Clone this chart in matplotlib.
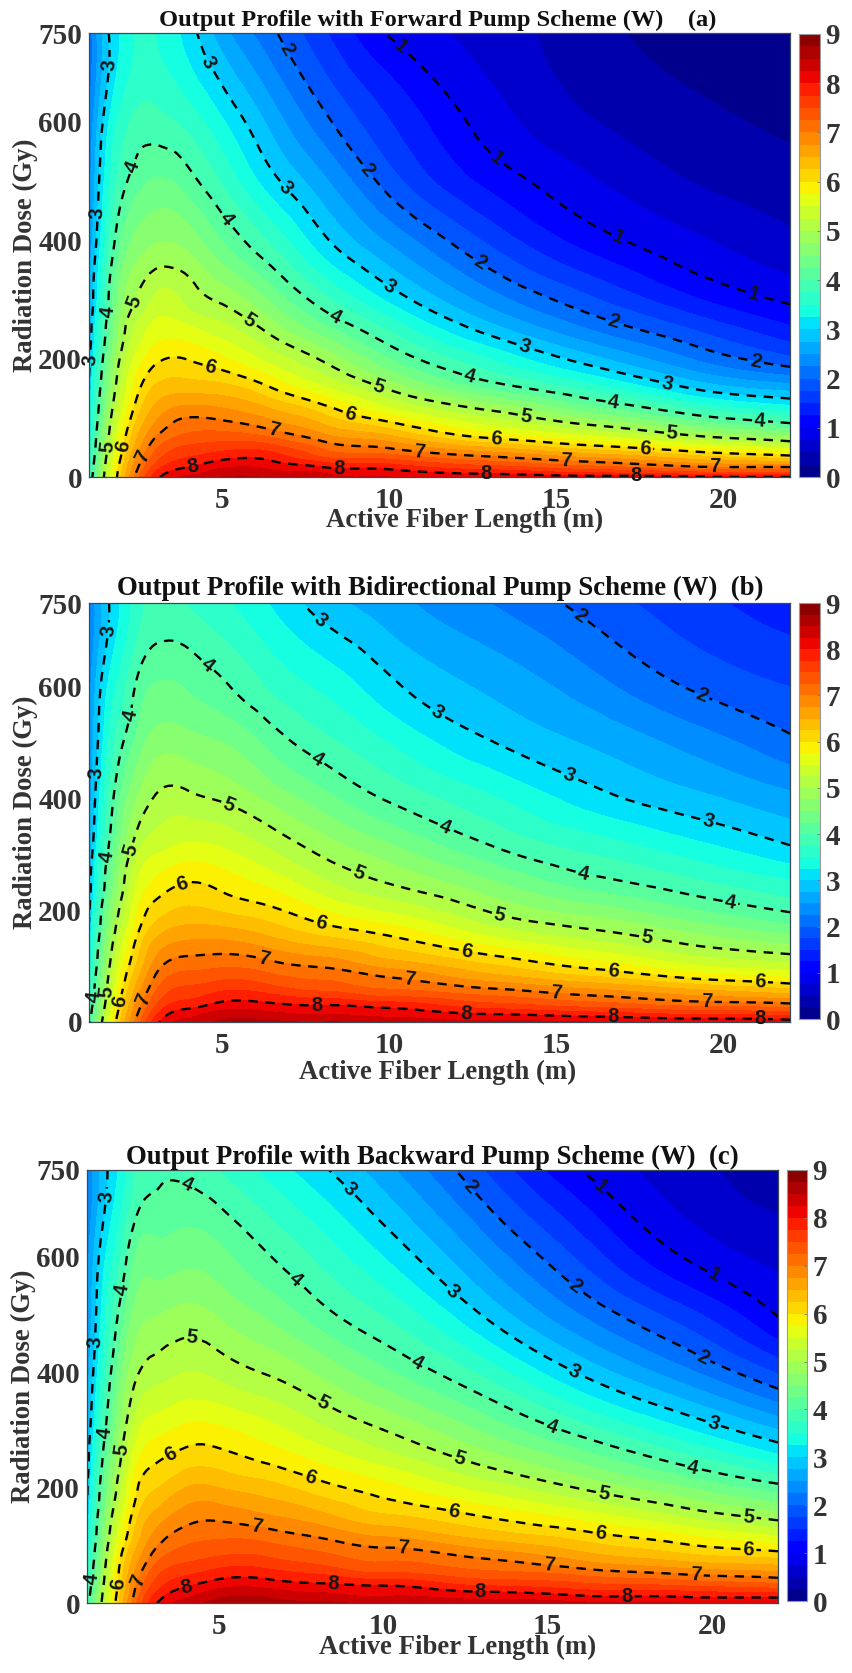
import matplotlib
matplotlib.use("Agg")
import matplotlib.pyplot as plt
import matplotlib.tri as mtri
import numpy as np

plt.rcParams["font.family"] = "Liberation Serif"
plt.rcParams["font.weight"] = "bold"

FIG_W, FIG_H = 853, 1673

lengths = [1, 1.5, 2, 2.5, 3, 4, 5, 6.5, 8, 10, 13, 16, 19, 22]
doses = [0, 15, 30, 50, 75, 100, 150, 200, 250, 300, 400, 500, 600, 750]
fill_levels = np.arange(0, 9.25, 0.25)
line_levels = [1, 2, 3, 4, 5, 6, 7, 8]

# one row per fiber length, one value per dose
forward_output = [
    [3.7, 3.6, 3.52, 3.42, 3.32, 3.22, 3.06, 2.93, 2.82, 2.72, 2.55, 2.4, 2.27, 2.1],
    [5.15, 5.07, 4.98, 4.87, 4.75, 4.63, 4.4, 4.2, 4.0, 3.82, 3.55, 3.33, 3.13, 2.9],
    [6.35, 6.25, 6.12, 5.97, 5.8, 5.63, 5.35, 5.12, 4.9, 4.7, 4.28, 3.9, 3.62, 3.3],
    [7.25, 7.05, 6.9, 6.7, 6.5, 6.3, 5.97, 5.65, 5.35, 5.05, 4.61, 4.17, 3.85, 3.55],
    [7.9, 7.65, 7.42, 7.2, 6.92, 6.7, 6.3, 5.93, 5.6, 5.3, 4.72, 4.28, 3.85, 3.5],
    [8.3, 8.03, 7.8, 7.55, 7.25, 7.01, 6.4, 5.98, 5.55, 5.16, 4.63, 4.1, 3.65, 3.12],
    [8.5, 8.25, 7.98, 7.65, 7.28, 6.95, 6.35, 5.8, 5.35, 4.94, 4.24, 3.71, 3.28, 2.6],
    [8.45, 8.2, 7.95, 7.6, 7.08, 6.7, 6.0, 5.38, 4.88, 4.43, 3.68, 3.08, 2.65, 2.05],
    [8.35, 8.05, 7.6, 7.2, 6.72, 6.35, 5.55, 4.95, 4.35, 3.84, 3.07, 2.56, 2.09, 1.55],
    [8.25, 7.95, 7.5, 6.97, 6.4, 5.85, 4.95, 4.25, 3.71, 3.19, 2.45, 1.87, 1.51, 0.97],
    [8.2, 7.65, 7.15, 6.5, 5.75, 5.25, 4.2, 3.49, 2.87, 2.38, 1.69, 1.17, 0.88, 0.65],
    [8.1, 7.4, 6.85, 6.12, 5.35, 4.7, 3.65, 2.84, 2.24, 1.8, 1.13, 0.78, 0.52, 0.33],
    [8.05, 7.15, 6.5, 5.75, 4.85, 4.15, 3.0, 2.25, 1.75, 1.3, 0.8, 0.5, 0.32, 0.15],
    [8.0, 7.1, 6.3, 5.4, 4.5, 3.75, 2.65, 1.8, 1.3, 0.95, 0.55, 0.35, 0.2, 0.05],
]

bidirectional_output = [
    [3.9, 3.8, 3.72, 3.6, 3.47, 3.35, 3.12, 2.95, 2.85, 2.76, 2.62, 2.5, 2.4, 2.25],
    [5.3, 5.18, 5.06, 4.95, 4.84, 4.72, 4.5, 4.3, 4.06, 3.9, 3.62, 3.38, 3.2, 2.9],
    [6.4, 6.28, 6.17, 6.04, 5.88, 5.73, 5.43, 5.15, 4.92, 4.72, 4.35, 3.98, 3.65, 3.3],
    [7.2, 7.06, 6.92, 6.75, 6.55, 6.37, 6.1, 5.8, 5.55, 5.3, 4.8, 4.38, 4.1, 3.68],
    [7.9, 7.7, 7.5, 7.3, 7.08, 6.88, 6.5, 6.12, 5.8, 5.5, 5.03, 4.62, 4.28, 3.85],
    [8.35, 8.15, 7.9, 7.65, 7.4, 7.17, 6.72, 6.3, 6.0, 5.65, 5.07, 4.6, 4.22, 3.72],
    [8.55, 8.35, 8.1, 7.82, 7.5, 7.22, 6.72, 6.22, 5.9, 5.58, 4.96, 4.5, 4.05, 3.55],
    [8.55, 8.3, 8.06, 7.75, 7.38, 7.1, 6.52, 6.05, 5.65, 5.29, 4.67, 4.15, 3.7, 3.22],
    [8.5, 8.22, 8.0, 7.6, 7.25, 6.97, 6.3, 5.75, 5.3, 4.97, 4.35, 3.83, 3.45, 2.87],
    [8.4, 8.15, 7.9, 7.4, 7.07, 6.68, 6.05, 5.45, 4.98, 4.64, 3.96, 3.49, 3.07, 2.6],
    [8.3, 7.98, 7.6, 7.2, 6.7, 6.3, 5.55, 4.97, 4.54, 4.12, 3.54, 3.02, 2.7, 2.25],
    [8.25, 7.85, 7.4, 6.95, 6.4, 5.93, 5.2, 4.62, 4.11, 3.75, 3.12, 2.72, 2.36, 1.9],
    [8.2, 7.7, 7.2, 6.7, 6.08, 5.55, 4.86, 4.28, 3.81, 3.44, 2.83, 2.41, 1.98, 1.6],
    [8.15, 7.6, 7.1, 6.5, 5.85, 5.35, 4.59, 3.96, 3.53, 3.11, 2.57, 2.06, 1.75, 1.35],
]

backward_output = [
    [3.85, 3.75, 3.66, 3.55, 3.42, 3.3, 3.08, 2.95, 2.85, 2.76, 2.62, 2.5, 2.4, 2.25],
    [5.15, 5.08, 5.0, 4.9, 4.78, 4.66, 4.45, 4.25, 4.06, 3.88, 3.6, 3.37, 3.18, 2.88],
    [6.3, 6.22, 6.14, 6.08, 5.97, 5.78, 5.45, 5.18, 4.95, 4.75, 4.42, 4.08, 3.72, 3.3],
    [7.25, 7.12, 7.02, 6.85, 6.65, 6.47, 6.2, 5.95, 5.68, 5.42, 4.95, 4.6, 4.3, 3.78],
    [7.9, 7.72, 7.55, 7.37, 7.12, 6.9, 6.55, 6.22, 5.93, 5.65, 5.12, 4.72, 4.38, 3.93],
    [8.35, 8.17, 7.97, 7.72, 7.45, 7.25, 6.88, 6.5, 6.12, 5.82, 5.25, 4.83, 4.42, 3.93],
    [8.6, 8.4, 8.17, 7.88, 7.57, 7.33, 6.93, 6.5, 6.12, 5.8, 5.17, 4.72, 4.33, 3.75],
    [8.6, 8.42, 8.17, 7.88, 7.55, 7.3, 6.78, 6.35, 5.93, 5.6, 4.97, 4.45, 4.02, 3.42],
    [8.55, 8.3, 8.07, 7.75, 7.4, 7.15, 6.6, 6.12, 5.7, 5.33, 4.71, 4.12, 3.7, 3.08],
    [8.45, 8.2, 8.0, 7.55, 7.22, 6.95, 6.3, 5.85, 5.38, 5.0, 4.31, 3.73, 3.25, 2.6],
    [8.35, 8.1, 7.75, 7.35, 7.03, 6.65, 6.0, 5.4, 4.89, 4.47, 3.69, 2.99, 2.46, 1.77],
    [8.3, 7.95, 7.6, 7.2, 6.72, 6.35, 5.65, 4.97, 4.41, 3.88, 2.96, 2.24, 1.69, 1.0],
    [8.25, 7.9, 7.5, 7.0, 6.45, 6.05, 5.25, 4.53, 3.88, 3.31, 2.35, 1.63, 1.01, 0.62],
    [8.2, 7.85, 7.35, 6.85, 6.3, 5.8, 4.88, 4.1, 3.35, 2.75, 1.72, 0.98, 0.68, 0.33],
]

# where the contour labels sit
forward_labels = [
    (10.2, 718), (13.07, 530), (16.76, 392), (20.86, 302),
    (6.78, 718), (9.1, 507), (12.57, 350), (16.66, 254), (20.96, 195),
    (1.65, 696), (1.33, 445), (1.13, 198), (4.58, 701), (6.73, 482), (9.93, 316), (14.0, 214), (18.3, 155),
    (2.33, 524), (5.08, 434), (1.58, 279), (8.33, 265), (12.4, 169), (16.7, 122), (21.1, 91),
    (2.38, 296), (5.73, 260), (1.58, 51), (9.67, 152), (14.07, 99), (18.46, 71),
    (2.03, 51), (4.63, 186), (8.82, 105), (13.2, 65), (17.66, 46),
    (2.63, 34), (6.53, 79), (10.9, 43), (15.3, 26), (19.76, 17),
    (4.1, 18), (8.5, 15), (12.9, 9), (17.4, 3),
]
bidirectional_labels = [
    (15.6, 719), (19.36, 585),
    (1.58, 701), (1.28, 445), (7.9, 716), (11.4, 552), (15.3, 433), (19.5, 349),
    (2.18, 549), (1.58, 295), (1.18, 45), (4.53, 638), (7.78, 465), (11.6, 340), (15.8, 263), (20.2, 209),
    (2.28, 307), (1.58, 54), (5.18, 388), (9.07, 266), (13.3, 191), (17.7, 146),
    (1.93, 36), (3.78, 249), (7.97, 179), (12.3, 124), (16.7, 91), (21.1, 70),
    (2.63, 39), (6.23, 113), (10.6, 73), (15, 51), (19.5, 38),
    (7.82, 30), (12.3, 17), (16.7, 9), (21.1, 4),
]
backward_labels = [
    (16.5, 715), (19.97, 559),
    (12.5, 715), (15.75, 542), (19.66, 418),
    (1.57, 704), (1.28, 452), (8.95, 715), (12, 533), (15.8, 400), (20, 305),
    (2.1, 542), (1.57, 294), (1.23, 42), (4.03, 724), (7.33, 559), (10.98, 409), (15.09, 302), (19.4, 233),
    (2.1, 265), (4.18, 454), (8.14, 343), (12.3, 247), (16.7, 187), (21.1, 146),
    (1.89, 34), (3.52, 259), (7.78, 218), (12.15, 158), (16.6, 117), (21.1, 91),
    (2.55, 39), (6.16, 133), (10.6, 92), (15.04, 65), (19.5, 49),
    (4.03, 28), (8.49, 34), (12.96, 20), (17.4, 13),
]


def px_axes(fig, left, top, right, bottom):
    return fig.add_axes([left / FIG_W, 1 - bottom / FIG_H, (right - left) / FIG_W, (bottom - top) / FIG_H])


def put_text(fig, x, y, s, **kwargs):
    fig.text(x / FIG_W, 1 - y / FIG_H, s, ha="center", va="center", **kwargs)


def draw_panel(fig, output, label_spots, title, title_size, box, cbar_box, title_xy, xlabel_xy, ylabel_xy):
    ax = px_axes(fig, *box)
    cax = px_axes(fig, *cbar_box)

    # let matplotlib's own tri refiner round off the read table
    x, y = np.meshgrid(lengths, doses, indexing="ij")
    tri = mtri.Triangulation(x.ravel() / 22, y.ravel() / 750)
    tri_fine, z_fine = mtri.UniformTriRefiner(tri).refine_field(np.ravel(output), subdiv=3)
    tri_fine = mtri.Triangulation(tri_fine.x * 22, tri_fine.y * 750, tri_fine.triangles)
    z_fine = np.clip(z_fine, 0.01, 8.99)

    cf = ax.tricontourf(tri_fine, z_fine, levels=fill_levels, cmap="jet", vmin=0, vmax=9)
    cs = ax.tricontour(tri_fine, z_fine, levels=line_levels, colors="black",
                       linewidths=1.7, linestyles=[(0, (4, 3.2))])
    texts = ax.clabel(cs, fmt="%d", fontsize=14.5, manual=label_spots, inline=True, inline_spacing=3)
    for t in texts:
        t.set_family("Liberation Sans")
        t.set_weight("bold")
        t.set_color("#151515")
        t.set_clip_on(False)

    ax.set_xlim(1, 22)
    ax.set_ylim(0, 750)
    ax.set_xticks([5, 10, 15, 20])
    ax.set_yticks([0, 200, 400, 600, 750])
    ax.tick_params(length=0, labelsize=21, labelcolor="#333333")
    ax.tick_params(axis="x", pad=7)
    ax.tick_params(axis="y", pad=5)
    for s in ax.spines.values():
        s.set_color("#3a4a55")
        s.set_linewidth(0.9)

    cb = fig.colorbar(cf, cax=cax, ticks=range(10))
    cb.ax.tick_params(length=2, width=0.6, color="#777777", direction="in", labelsize=21,
                      labelcolor="#333333", pad=4)
    cb.outline.set_edgecolor("#999999")
    cb.outline.set_linewidth(0.8)

    put_text(fig, *title_xy, title, fontsize=title_size, color="#111111")
    put_text(fig, *xlabel_xy, "Active Fiber Length (m)", fontsize=19.3, color="#333333")
    put_text(fig, *ylabel_xy, "Radiation Dose (Gy)", fontsize=19.3, color="#333333", rotation=90)
    return ax


fig = plt.figure(figsize=(FIG_W / 100, FIG_H / 100), dpi=100)

draw_panel(fig, forward_output, forward_labels,
           "Output Profile with Forward Pump Scheme (W)    (a)", 17.6,
           (89, 33, 790, 477), (799, 34, 820, 477), (438, 20), (465, 520), (25, 255))
draw_panel(fig, bidirectional_output, bidirectional_labels,
           "Output Profile with Bidirectional Pump Scheme (W)  (b)", 19.3,
           (89, 603, 790, 1022), (799, 603, 820, 1019), (440, 588), (438, 1072), (25, 812))
draw_panel(fig, backward_output, backward_labels,
           "Output Profile with Backward Pump Scheme (W)  (c)", 19.3,
           (87, 1170, 778, 1603), (787, 1170, 807, 1601), (432, 1157), (458, 1647), (23, 1386))

fig.savefig("out.png", dpi=100)
